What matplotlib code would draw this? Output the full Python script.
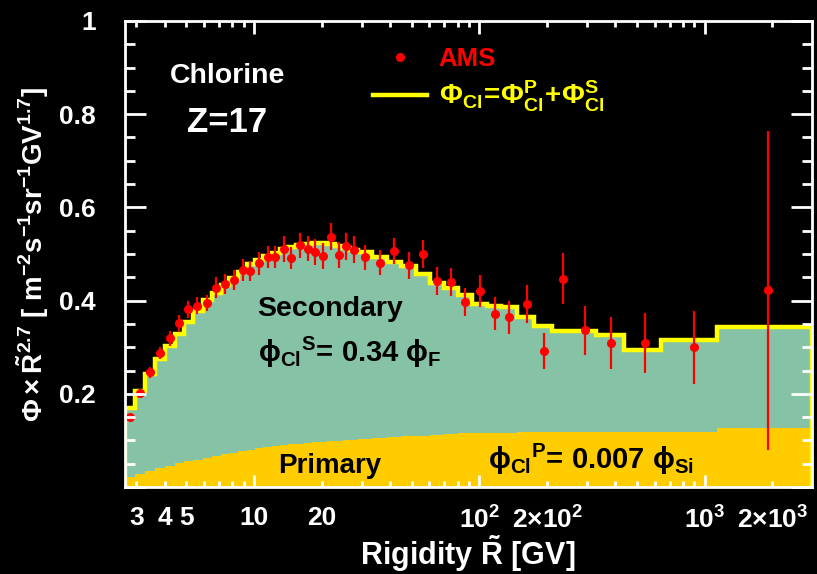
import numpy as np
import matplotlib
matplotlib.use("Agg")
import matplotlib.pyplot as plt
from matplotlib.lines import Line2D
from matplotlib.ticker import FixedLocator, FixedFormatter, NullFormatter


# ==========================================
# Data
# ==========================================

# rigidity bin edges [GV]
BIN_EDGES = [2.67, 2.97, 3.29, 3.64, 4.02, 4.43, 4.88, 5.37, 5.90, 6.47,
             7.09, 7.76, 8.48, 9.26, 10.1, 11.0, 12.0, 13.0, 14.1, 15.3,
             16.6, 18.0, 19.5, 21.1, 22.8, 24.7, 26.7, 28.8, 33.5, 38.9,
             45.1, 52.2, 60.3, 69.7, 80.5, 93.0, 108, 125, 147, 175,
             211, 259, 330, 441, 643, 1130, 3000]

# model: total flux (primary + secondary) per bin
MODEL_TOTAL = [0.170, 0.207, 0.242, 0.274, 0.303, 0.328, 0.355, 0.378, 0.401, 0.416,
               0.433, 0.448, 0.462, 0.478, 0.487, 0.495, 0.503, 0.510, 0.516, 0.520,
               0.522, 0.523, 0.523, 0.521, 0.518, 0.513, 0.508, 0.504, 0.493, 0.483,
               0.474, 0.457, 0.437, 0.426, 0.412, 0.392, 0.389, 0.386, 0.365, 0.345,
               0.335, 0.334, 0.326, 0.294, 0.315, 0.344]

# model: primary part per bin
MODEL_PRIMARY = [0.022, 0.028, 0.034, 0.040, 0.046, 0.051, 0.055, 0.059, 0.062, 0.066,
                 0.070, 0.074, 0.077, 0.080, 0.083, 0.086, 0.088, 0.090, 0.092, 0.093,
                 0.095, 0.096, 0.097, 0.098, 0.099, 0.100, 0.101, 0.103, 0.105, 0.107,
                 0.109, 0.110, 0.112, 0.113, 0.115, 0.116, 0.116, 0.116, 0.117, 0.117,
                 0.117, 0.118, 0.118, 0.118, 0.119, 0.126]

# AMS data points
AMS_R = [2.80, 3.11, 3.45, 3.81, 4.21, 4.63, 5.09, 5.60, 6.16, 6.77,
         7.41, 8.13, 8.88, 9.60, 10.5, 11.5, 12.4, 13.6, 14.6, 15.9,
         17.3, 18.7, 20.3, 21.9, 23.7, 25.6, 27.7, 31.0, 36.2, 41.9,
         48.7, 56.2, 64.9, 74.8, 86.7, 100.7, 117, 136, 162, 193,
         236, 295, 385, 545, 899, 1919]

AMS_FLUX = [0.151, 0.201, 0.246, 0.287, 0.319, 0.351, 0.381, 0.389, 0.395, 0.428,
            0.436, 0.444, 0.466, 0.463, 0.480, 0.493, 0.493, 0.511, 0.491, 0.519,
            0.511, 0.504, 0.496, 0.537, 0.498, 0.517, 0.509, 0.493, 0.481, 0.506,
            0.476, 0.500, 0.443, 0.440, 0.396, 0.420, 0.372, 0.364, 0.392, 0.292,
            0.447, 0.336, 0.309, 0.309, 0.300, 0.422]

AMS_ERR = [0.006, 0.010, 0.012, 0.013, 0.016, 0.018, 0.019, 0.018, 0.018, 0.022,
           0.022, 0.022, 0.023, 0.022, 0.025, 0.024, 0.024, 0.028, 0.024, 0.027,
           0.027, 0.028, 0.028, 0.029, 0.028, 0.029, 0.029, 0.027, 0.027, 0.028,
           0.029, 0.031, 0.030, 0.031, 0.030, 0.034, 0.035, 0.036, 0.041, 0.039,
           0.055, 0.052, 0.056, 0.064, 0.078, 0.343]

X_TICK_POS = [3, 4, 5, 10, 20, 100, 200, 1000, 2000]
X_TICK_LABELS = ["3", "4", "5", "10", "20", r"10$^{2}$", r"2$\times$10$^{2}$",
                 r"10$^{3}$", r"2$\times$10$^{3}$"]
Y_TICK_POS = [0.2, 0.4, 0.6, 0.8, 1.0]
Y_TICK_LABELS = ["0.2", "0.4", "0.6", "0.8", "1"]


# ==========================================
# Style
# ==========================================

GREEN = "#86c2a6"
GOLD = "#ffcc00"
YELLOW = "#ffff00"
RED = "#ff0000"

plt.rcParams["font.family"] = ["Liberation Sans", "DejaVu Sans"]
plt.rcParams["font.weight"] = "bold"
plt.rcParams["mathtext.fontset"] = "custom"
plt.rcParams["mathtext.rm"] = "Liberation Sans:bold"
plt.rcParams["mathtext.it"] = "Liberation Sans:bold"
plt.rcParams["mathtext.bf"] = "Liberation Sans:bold"
plt.rcParams["mathtext.sf"] = "Liberation Sans:bold"
plt.rcParams["mathtext.default"] = "rm"


# ==========================================
# Plot
# ==========================================

fig = plt.figure(figsize=(8.17, 5.74), dpi=100, facecolor="black")
ax = fig.add_axes([125 / 817, 1 - 487 / 574, 687 / 817, 466 / 574])
ax.set_facecolor("black")

edges = np.array(BIN_EDGES)
total = np.array(MODEL_TOTAL)
primary = np.array(MODEL_PRIMARY)

ax.stairs(total, edges, baseline=primary, fill=True, color=GREEN, lw=0, zorder=1)
ax.stairs(primary, edges, baseline=0, fill=True, color=GOLD, lw=0, zorder=1.1)
ax.stairs(total, edges, baseline=0, color=YELLOW, lw=3.2, zorder=1.2)

ax.errorbar(AMS_R, AMS_FLUX, yerr=AMS_ERR, fmt="o", color=RED, ms=5.5,
            elinewidth=1.6, capsize=0, zorder=2)

ax.set_xscale("log")
ax.set_xlim(2.67, 3000)
ax.set_ylim(0, 1)

# frame
for sp in ax.spines.values():
    sp.set_color("white")
    sp.set_linewidth(2.0)
    sp.set_zorder(3)
ax.set_axisbelow(False)

# x ticks: long at decades, short elsewhere
decades = [10, 100, 1000]
minor_pos = [v * d for d in [1, 10, 100, 1000] for v in range(2, 10)
             if 2.67 < v * d < 3000 and v * d not in decades]
ax.xaxis.set_major_locator(FixedLocator(decades))
ax.xaxis.set_major_formatter(FixedFormatter(
    [X_TICK_LABELS[X_TICK_POS.index(d)] for d in decades]))
ax.xaxis.set_minor_locator(FixedLocator(minor_pos))
ax.xaxis.set_minor_formatter(FixedFormatter(
    [X_TICK_LABELS[X_TICK_POS.index(p)] if p in X_TICK_POS else "" for p in minor_pos]))

ax.yaxis.set_major_locator(FixedLocator([0.0] + Y_TICK_POS))
ax.yaxis.set_major_formatter(FixedFormatter([""] + Y_TICK_LABELS))
ax.yaxis.set_minor_locator(FixedLocator(np.arange(0.05, 1.0, 0.05)))
ax.yaxis.set_minor_formatter(NullFormatter())

ax.tick_params(which="both", direction="in", colors="white", top=True, right=True,
               width=2.0, labelsize=19, zorder=3)
ax.tick_params(axis="x", which="major", length=9, pad=14)
ax.tick_params(axis="x", which="minor", length=4.5, pad=14)
ax.tick_params(axis="y", which="major", length=15, pad=21)
ax.tick_params(axis="y", which="minor", length=7.5)
for t in ax.get_xticklabels(which="both") + ax.get_yticklabels():
    t.set_fontweight("bold")

ax.set_xlabel(r"Rigidity $\tilde{R}$ [GV]", color="white", fontsize=22,
              fontweight="bold", va="baseline")
ax.xaxis.set_label_coords(0.499, -0.168)
ax.set_ylabel(r"$\Phi\times\tilde{R}^{2.7}$ [ m$^{-2}$s$^{-1}$sr$^{-1}$GV$^{1.7}$]",
              color="white", fontsize=20, fontweight="bold", labelpad=6)

# annotations
ax.text(0.0655, 0.867, "Chlorine", transform=ax.transAxes, color="white",
        fontsize=20.5, fontweight="bold", va="baseline")
ax.text(0.090, 0.762, "Z=17", transform=ax.transAxes, color="white",
        fontsize=25, fontweight="bold", va="baseline")
ax.text(0.192, 0.367, "Secondary", transform=ax.transAxes, color="black",
        fontsize=20.5, fontweight="bold", va="baseline")
ax.text(0.194, 0.269, r"$\phi_{Cl}{}^{S}$= 0.34 $\phi_{F}$", transform=ax.transAxes,
        color="black", fontsize=21, fontweight="bold", va="baseline")
ax.text(0.223, 0.031, "Primary", transform=ax.transAxes, color="black",
        fontsize=20, fontweight="bold", va="baseline")
ax.text(0.528, 0.038, r"$\phi_{Cl}{}^{P}$= 0.007 $\phi_{Si}$", transform=ax.transAxes,
        color="black", fontsize=21, fontweight="bold", va="baseline")

# legend
handles = [Line2D([], [], ls="none", marker="o", ms=5.5, color=RED),
           Line2D([], [], color=YELLOW, lw=3.2)]
labels = ["AMS", r"$\Phi_{Cl}\!=\!\Phi_{Cl}^{P}\!+\!\Phi_{Cl}^{S}$"]
leg = ax.legend(handles, labels, loc="upper left", bbox_to_anchor=(0.361, 0.945),
                frameon=False, fontsize=18.5, handlelength=2.1, handletextpad=0.45,
                labelspacing=0.3, borderaxespad=0, borderpad=0)
leg.get_texts()[0].set_color(RED)
leg.get_texts()[1].set_color(YELLOW)
leg.get_texts()[1].set_fontsize(20)

fig.savefig("out.png", dpi=100, facecolor="black")
